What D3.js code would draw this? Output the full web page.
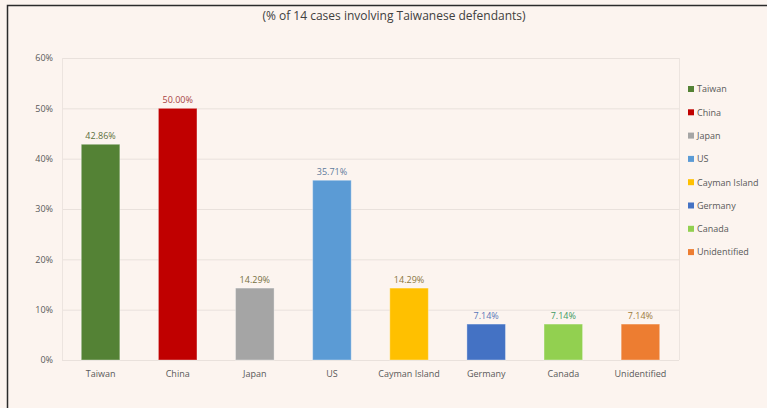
<!DOCTYPE html>
<html>
<head>
<meta charset="utf-8">
<script src="https://cdn.jsdelivr.net/npm/d3@7"></script>
<style>
  html, body { margin: 0; padding: 0; background: #fcf4ef; }
  svg { display: block; }
  text { font-family: "Open Sans", "Noto Sans", sans-serif; }
</style>
</head>
<body>
<svg id="chart" width="767" height="408"></svg>
<script>
// Share of the 14 cases involving Taiwanese defendants, by country
const categories = ["Taiwan", "China", "Japan", "US", "Cayman Island", "Germany", "Canada", "Unidentified"];
const values = [42.86, 50.00, 14.29, 35.71, 14.29, 7.14, 7.14, 7.14];
const barColors = ["#548235", "#c00000", "#a5a5a5", "#5b9bd5", "#ffc000", "#4472c4", "#92d050", "#ed7d31"];
const labelColors = ["#5d7040", "#a8423f", "#77703f", "#5f7b9c", "#8a7640", "#5a76b8", "#3f9a62", "#9c7b3c"];
const yTicks = [0, 10, 20, 30, 40, 50, 60];
const title = "(% of 14 cases involving Taiwanese defendants)";

const svg = d3.select("#chart");
const W = 767, H = 408;

// outer frame (left and top edges visible)
svg.append("rect").attr("x", 0).attr("y", 0).attr("width", W).attr("height", H).attr("fill", "#fcf4ef");
svg.append("path").attr("d", `M7.5,${H} V5.5 H${W}`).attr("fill", "none").attr("stroke", "#2b2b2b").attr("stroke-width", 1.5);

svg.append("text")
  .attr("x", 394).attr("y", 20)
  .attr("text-anchor", "middle")
  .attr("font-size", 12)
  .attr("fill", "#404040")
  .text(title);

const plot = { left: 62, right: 679, top: 58, bottom: 360 };

const x = d3.scaleBand().domain(categories).range([plot.left, plot.right]).paddingInner(0.5).paddingOuter(0.25);
const y = d3.scaleLinear().domain([0, 60]).range([plot.bottom, plot.top]);

// gridlines
svg.append("g").selectAll("line").data(yTicks).join("line")
  .attr("x1", plot.left).attr("x2", plot.right)
  .attr("y1", d => y(d) + 0.5).attr("y2", d => y(d) + 0.5)
  .attr("stroke", "#e9e1dc").attr("stroke-width", 1);

// plot area side borders
svg.append("g").selectAll("line").data([plot.left, plot.right]).join("line")
  .attr("x1", d => d + 0.5).attr("x2", d => d + 0.5)
  .attr("y1", plot.top).attr("y2", plot.bottom)
  .attr("stroke", "#ece4df");

// y axis labels
const yAxis = d3.axisLeft(y).tickValues(yTicks).tickFormat(d => d + "%").tickSize(0).tickPadding(9);
const gy = svg.append("g").attr("transform", `translate(${plot.left},0)`).call(yAxis);
gy.select(".domain").remove();
gy.selectAll("text").attr("font-size", 9).attr("fill", "#595959").attr("font-family", "'Open Sans', sans-serif");

// x axis labels
const xAxis = d3.axisBottom(x).tickSize(0).tickPadding(11);
const gx = svg.append("g").attr("transform", `translate(0,${plot.bottom})`).call(xAxis);
gx.select(".domain").remove();
gx.selectAll("text").attr("font-size", 9).attr("fill", "#595959").attr("font-family", "'Open Sans', sans-serif");

// bars
const data = categories.map((c, i) => ({ c, v: values[i], color: barColors[i], lc: labelColors[i] }));
svg.append("g").selectAll("rect").data(data).join("rect")
  .attr("x", d => x(d.c))
  .attr("y", d => y(d.v))
  .attr("width", x.bandwidth())
  .attr("height", d => y(0) - y(d.v))
  .attr("fill", d => d.color)
  .attr("stroke", "#ffffff").attr("stroke-opacity", 0.35).attr("stroke-width", 1);

// value labels
svg.append("g").selectAll("text").data(data).join("text")
  .attr("x", d => x(d.c) + x.bandwidth() / 2)
  .attr("y", d => y(d.v) - 5)
  .attr("text-anchor", "middle")
  .attr("font-size", 9)
  .attr("fill", d => d.lc)
  .text(d => d.v.toFixed(2) + "%");

// legend
const legend = svg.append("g").selectAll("g").data(data).join("g")
  .attr("transform", (d, i) => `translate(688,${89 + i * 23.3})`);
legend.append("rect").attr("x", 0).attr("y", -3).attr("width", 6).attr("height", 6).attr("fill", d => d.color);
legend.append("text").attr("x", 9).attr("y", 3.3)
  .attr("font-size", 9).attr("fill", "#595959")
  .text(d => d.c);
</script>
</body>
</html>
